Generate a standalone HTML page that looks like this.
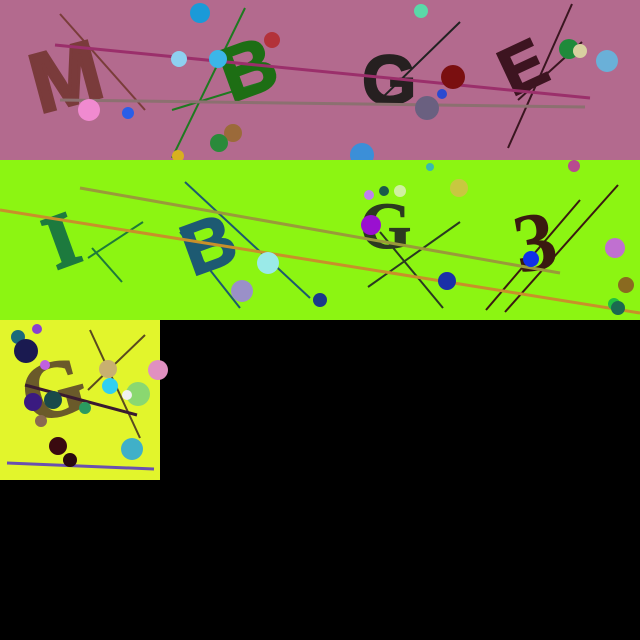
<!DOCTYPE html>
<html><head><meta charset="utf-8"><style>
html,body{margin:0;padding:0;background:#000;width:640px;height:640px;overflow:hidden}
svg{display:block}
text{font-family:"Liberation Sans",sans-serif;font-weight:bold}
.serif{font-family:"Liberation Serif",serif}
</style></head><body>
<svg width="640" height="640" viewBox="0 0 640 640">
<rect width="640" height="640" fill="#000"/>
<g>
<rect x="0" y="0" width="640" height="160" fill="#b36a8e"/>
<line x1="60" y1="14" x2="145" y2="110" stroke="#7a3d3a" stroke-width="2"/>
<line x1="245" y1="8" x2="172" y2="158" stroke="#1e7a20" stroke-width="2"/>
<line x1="172" y1="110" x2="270" y2="80" stroke="#1e7a20" stroke-width="2"/>
<line x1="380" y1="100" x2="460" y2="22" stroke="#222" stroke-width="2"/>
<line x1="572" y1="4" x2="508" y2="148" stroke="#3a1620" stroke-width="2"/>
<line x1="582" y1="42" x2="518" y2="100" stroke="#3a1620" stroke-width="2"/>
<text x="28" y="104" font-size="84" fill="#7a3b3b" stroke="#7a3b3b" stroke-width="3" transform="rotate(-15 70 65)">M</text>
<text x="218" y="92" font-size="76" fill="#1d6e14" stroke="#1d6e14" stroke-width="2" transform="rotate(-20 255 60)">B</text>
<text x="362" y="104" font-size="70" fill="#262020" stroke="#262020" stroke-width="2">G</text>
<text x="498" y="88" font-size="66" fill="#3d1420" stroke="#3d1420" stroke-width="2" transform="rotate(-25 525 60)">E</text>
<line x1="55" y1="45" x2="590" y2="98" stroke="#9b2f6b" stroke-width="3"/>
<line x1="60" y1="100" x2="585" y2="107" stroke="#8c7070" stroke-width="3"/>
<circle cx="200" cy="13" r="10" fill="#1a9ad8"/><circle cx="179" cy="59" r="8" fill="#8ed0f0"/>
<circle cx="218" cy="59" r="9" fill="#3bb6e8"/><circle cx="272" cy="40" r="8" fill="#b3323a"/>
<circle cx="89" cy="110" r="11" fill="#f08ad0"/><circle cx="128" cy="113" r="6" fill="#2a5ee8"/>
<circle cx="233" cy="133" r="9" fill="#9b6a3a"/><circle cx="219" cy="143" r="9" fill="#2a8a3a"/>
<circle cx="178" cy="156" r="6" fill="#d8b020"/><circle cx="362" cy="155" r="12" fill="#3b8fd8"/>
<circle cx="421" cy="11" r="7" fill="#5ad8a8"/><circle cx="453" cy="77" r="12" fill="#7a0f10"/>
<circle cx="427" cy="108" r="12" fill="#6a6080"/><circle cx="442" cy="94" r="5" fill="#2a4ad0"/>
<circle cx="569" cy="49" r="10" fill="#1f8a3a"/><circle cx="580" cy="51" r="7" fill="#d8d0a0"/>
<circle cx="607" cy="61" r="11" fill="#6ab0d8"/>
</g>
<g>
<rect x="0" y="160" width="640" height="160" fill="#8cf512"/>
<line x1="88" y1="258" x2="143" y2="222" stroke="#1e7a3a" stroke-width="2"/>
<line x1="92" y1="248" x2="122" y2="282" stroke="#1e7a3a" stroke-width="2"/>
<line x1="185" y1="182" x2="310" y2="298" stroke="#1d5a6e" stroke-width="2"/>
<line x1="180" y1="232" x2="240" y2="308" stroke="#1d5a6e" stroke-width="2"/>
<line x1="368" y1="287" x2="460" y2="222" stroke="#2a3a20" stroke-width="2"/>
<line x1="380" y1="232" x2="443" y2="308" stroke="#2a3a20" stroke-width="2"/>
<line x1="486" y1="310" x2="580" y2="200" stroke="#3a1a10" stroke-width="2"/>
<line x1="505" y1="312" x2="618" y2="185" stroke="#3a1a10" stroke-width="2"/>
<text class="serif" x="42" y="262" font-size="76" fill="#1d7a3e" stroke="#1d7a3e" stroke-width="3" transform="rotate(-20 70 225)">I</text>
<text x="178" y="266" font-size="72" fill="#1d5a72" stroke="#1d5a72" stroke-width="2" transform="rotate(-20 215 230)">B</text>
<text class="serif" x="360" y="248" font-size="66" fill="#2c3a20" stroke="#2c3a20" stroke-width="1">G</text>
<text class="serif" x="512" y="268" font-size="84" fill="#3a1a10" transform="rotate(-10 545 230)">3</text>
<line x1="80" y1="188" x2="560" y2="273" stroke="#9a9a3a" stroke-width="3"/>
<line x1="0" y1="210" x2="640" y2="313" stroke="#c8902a" stroke-width="3"/>
<circle cx="268" cy="263" r="11" fill="#9aeae8"/><circle cx="242" cy="291" r="11" fill="#9a90c8"/>
<circle cx="320" cy="300" r="7" fill="#1a3a8a"/><circle cx="371" cy="225" r="10" fill="#9a10d0"/>
<circle cx="369" cy="195" r="5" fill="#c080f0"/><circle cx="384" cy="191" r="5" fill="#1a5a4a"/>
<circle cx="400" cy="191" r="6" fill="#d0f0a0"/><circle cx="430" cy="167" r="4" fill="#3ab8b0"/>
<circle cx="459" cy="188" r="9" fill="#c8c840"/><circle cx="447" cy="281" r="9" fill="#1a30a8"/>
<circle cx="531" cy="259" r="8" fill="#1030e8"/><circle cx="574" cy="166" r="6" fill="#b84a90"/>
<circle cx="615" cy="248" r="10" fill="#c070d0"/><circle cx="626" cy="285" r="8" fill="#8a6a20"/>
<circle cx="614" cy="304" r="6" fill="#20c040"/><circle cx="618" cy="308" r="7" fill="#1a6a50"/>
</g>
<g>
<rect x="0" y="320" width="160" height="160" fill="#e2f52c"/>
<line x1="90" y1="330" x2="140" y2="438" stroke="#5a4a20" stroke-width="2"/>
<line x1="88" y1="390" x2="145" y2="335" stroke="#5a4a20" stroke-width="2"/>
<text class="serif" x="20" y="414" font-size="80" fill="#6a5a2a" stroke="#6a5a2a" stroke-width="2" transform="rotate(-15 60 380)">G</text>
<line x1="25" y1="385" x2="137" y2="415" stroke="#3a1a30" stroke-width="3"/>
<line x1="7" y1="463" x2="154" y2="469" stroke="#6a50b0" stroke-width="3"/>
<circle cx="18" cy="337" r="7" fill="#1a6a7a"/><circle cx="37" cy="329" r="5" fill="#8a40d0"/>
<circle cx="26" cy="351" r="12" fill="#1a1a50"/><circle cx="45" cy="365" r="5" fill="#c060e0"/>
<circle cx="108" cy="369" r="9" fill="#c8b070"/><circle cx="158" cy="370" r="10" fill="#e090c0"/>
<circle cx="110" cy="386" r="8" fill="#30d0f0"/><circle cx="138" cy="394" r="12" fill="#8ad870"/>
<circle cx="127" cy="395" r="5" fill="#f0f0f0"/><circle cx="33" cy="402" r="9" fill="#3a1a80"/>
<circle cx="53" cy="400" r="9" fill="#1a4a4a"/><circle cx="85" cy="408" r="6" fill="#2a9a60"/>
<circle cx="41" cy="421" r="6" fill="#8a6a50"/><circle cx="58" cy="446" r="9" fill="#3a0a10"/>
<circle cx="70" cy="460" r="7" fill="#2a0a10"/><circle cx="132" cy="449" r="11" fill="#40b0c8"/>
</g>
</svg>
</body></html>
